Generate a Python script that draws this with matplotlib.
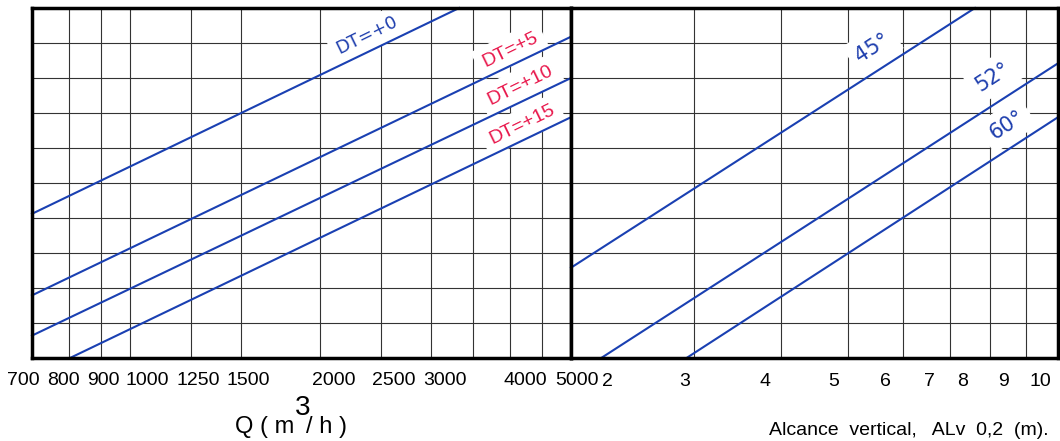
import numpy as np
import matplotlib.pyplot as plt
from matplotlib.transforms import ScaledTranslation

# Caudal Q (m3/h) -> curvas DT (escala sin unidades 0..10)
dt_names = ['DT=+0', 'DT=+5', 'DT=+10', 'DT=+15']
dt_colors = ['#1f3fae', '#e8174b', '#e8174b', '#e8174b']
q_start = [700, 700, 700, 804]
q_end = [3325, 5000, 5000, 5000]
dt_h_start = [4.12, 1.79, 0.64, 0.0]
dt_h_end = [10.0, 9.18, 8.0, 6.88]
dt_label_q = [2376, 4003, 4151, 4182]
dt_label_h = [9.23, 8.8, 7.8, 6.66]

# Alcance vertical (m) -> curvas por angulo
ang_names = ['45°', '52°', '60°']
alv_start = [2.0, 2.21, 2.93]
alv_end = [7.6, 10.0, 10.0]
ang_h_start = [2.58, 0.0, 0.0]
ang_h_end = [10.0, 8.42, 6.88]
ang_label_x = [5.42, 8.07, 8.44]
ang_label_h = [8.87, 8.04, 6.66]

q_ticks = [700, 800, 900, 1000, 1250, 1500, 2000, 2500, 3000, 4000, 5000]
q_grid = [800, 900, 1000, 1250, 1500, 2000, 2500, 3000, 3500, 4000, 4500]
alv_ticks = [2, 3, 4, 5, 6, 7, 8, 9, 10]
alv_grid = [3, 4, 5, 6, 7, 8, 9]
h_grid = [1, 2, 3, 4, 5, 6, 7, 8, 9]

# label offsets in pixels (labels in the original sit off their gridlines)
q_dx = [-9, -5, 2, 17, 7, 7, 14, 13, 14, 15, 6]
alv_dx = [36, -9, -16, -15, -18, -21, -28, -23, -18]

LINE = '#1a40b2'
W, H = 1060, 441
plt.rcParams['font.family'] = ['Liberation Sans', 'DejaVu Sans']

fig = plt.figure(figsize=(W / 100, H / 100), dpi=100)
axl = fig.add_axes([32 / W, (H - 358) / H, 539 / W, 350 / H])
axr = fig.add_axes([571 / W, (H - 358) / H, 487 / W, 350 / H])


def setup(ax, xlim, ticks, labels, grid, dx, pad):
    ax.set_xscale('log')
    ax.set_xlim(*xlim)
    ax.set_ylim(0, 10)
    ax.set_xticks(ticks, labels)
    ax.xaxis.set_minor_locator(plt.NullLocator())
    ax.set_yticks([])
    ax.tick_params(axis='x', length=0, pad=pad, labelsize=14)
    for g in grid:
        ax.axvline(g, color='#333333', lw=0.8, zorder=1)
    for g in h_grid:
        ax.axhline(g, color='#333333', lw=0.8, zorder=1)
    for s in ax.spines.values():
        s.set_linewidth(2.5)
        s.set_zorder(5)
    for lab, d in zip(ax.get_xticklabels(), dx):
        lab.set_transform(lab.get_transform() + ScaledTranslation(d / 100, 0, fig.dpi_scale_trans))


setup(axl, (700, 5000), q_ticks, [str(t) for t in q_ticks], q_grid, q_dx, 10)
setup(axr, (2, 10), alv_ticks, [str(t) for t in alv_ticks], alv_grid, alv_dx, 11)

box = dict(boxstyle='square,pad=0.35', facecolor='white', edgecolor='none')

for i in range(len(dt_names)):
    axl.plot([q_start[i], q_end[i]], [dt_h_start[i], dt_h_end[i]], color=LINE, lw=1.5, zorder=3, clip_on=False)
    fam = ['DejaVu Sans'] if i == 0 else ['Liberation Sans']
    size = 13 if i == 0 else 14
    axl.text(dt_label_q[i], dt_label_h[i], dt_names[i], color=dt_colors[i], rotation=26,
             ha='center', va='center', fontsize=size, family=fam, bbox=box, zorder=2,
             rotation_mode='anchor')

for i in range(len(ang_names)):
    axr.plot([alv_start[i], alv_end[i]], [ang_h_start[i], ang_h_end[i]], color=LINE, lw=1.5, zorder=3, clip_on=False)
    axr.text(ang_label_x[i], ang_label_h[i], ang_names[i], color='#1f3fae', rotation=33,
             ha='center', va='center', fontsize=15, family=['DejaVu Sans'], bbox=box, zorder=2,
             rotation_mode='anchor')

# axis titles
fig.text(294 / W, 1 - 433 / H, 'Q ( m', ha='right', va='baseline', fontsize=17)
fig.text(295 / W, 1 - 415 / H, '3', ha='left', va='baseline', fontsize=20)
fig.text(306 / W, 1 - 433 / H, '/ h )', ha='left', va='baseline', fontsize=17)
fig.text(769 / W, 1 - 435 / H, 'Alcance  vertical,   ALv  0,2  (m).', ha='left', va='baseline', fontsize=14)

fig.savefig('out.png', dpi=100, facecolor='white')
